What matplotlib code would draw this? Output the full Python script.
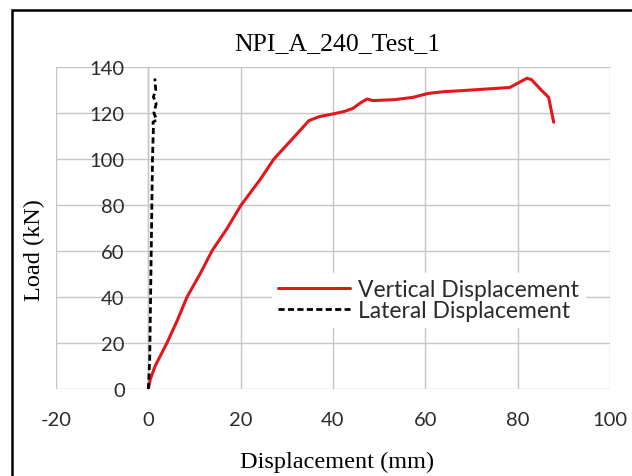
import matplotlib
matplotlib.use("Agg")
import matplotlib.pyplot as plt
from matplotlib.patches import Rectangle

plt.rcParams["axes.unicode_minus"] = False

# Data
vert_disp = [0, 0.43, 1.5, 4.1, 6.4, 8.4, 11.2, 13.8, 17.0, 20.0, 24.3, 27.2, 30.5, 33.8, 34.8,
             37.0, 40.0, 42.5, 44.3, 46.1, 47.4, 48.6, 53.3, 57.3, 60.6, 64.2, 67.8, 78.3,
             82.0, 83.0, 84.9, 86.7, 87.8]
vert_load = [0, 4.3, 10.1, 20.3, 30.4, 40.1, 50.0, 60.1, 69.6, 79.7, 91.3, 100, 107.2, 114.5, 116.7,
             118.4, 119.6, 120.7, 122.0, 124.6, 126.1, 125.4, 125.8, 126.8, 128.5, 129.3, 129.7, 131.1,
             135.1, 134.5, 130.4, 126.8, 116.0]
lat_disp = [0, 0.3, 0.6, 0.9, 1.1, 1.0, 1.8, 1.2, 1.7, 1.1, 1.6, 1.4]
lat_load = [0, 13, 56, 100, 114, 116, 117, 120, 124, 127, 130, 135]

x_ticks = [-20, 0, 20, 40, 60, 80, 100]
y_ticks = [0, 20, 40, 60, 80, 100, 120, 140]

title = "NPI_A_240_Test_1"
xlabel = "Displacement (mm)"
ylabel = "Load (kN)"

serif = ["Liberation Serif", "DejaVu Serif"]
sans = ["Lato", "DejaVu Sans"]

W, H = 632, 477
fig = plt.figure(figsize=(W / 100, H / 100), dpi=100)
fig.patch.set_facecolor("white")
# outer frame (cut off at right and bottom like the reference)
fig.patches.append(Rectangle((11.5 / W, -0.1), 1.2, 1 - 10.5 / H + 0.1,
                             transform=fig.transFigure, fill=False,
                             edgecolor="black", linewidth=1.8, zorder=10))

ax_l, ax_r, ax_t, ax_b = 56, 610, 68, 390
ax = fig.add_axes([ax_l / W, 1 - ax_b / H, (ax_r - ax_l) / W, (ax_b - ax_t) / H])
ax.set_xlim(-20, 100)
ax.set_ylim(0, 140)
ax.set_xticks(x_ticks)
ax.set_yticks(y_ticks)

grid_c = "#c6c6c6"
ax.grid(True, color=grid_c, linewidth=1.0, zorder=0)
ax.set_axisbelow(True)
for s in ["top", "right", "bottom"]:
    ax.spines[s].set_visible(False)
ax.spines["left"].set_position(("data", 0))
ax.spines["left"].set_color(grid_c)
ax.spines["left"].set_linewidth(1.0)
ax.spines["left"].set_zorder(0.5)
ax.tick_params(axis="both", length=0, labelsize=14.5, colors="#2b2b2b")
ax.tick_params(axis="y", pad=17)
ax.tick_params(axis="x", pad=16)
for lab in ax.get_xticklabels() + ax.get_yticklabels():
    lab.set_family(sans)

ax.plot(vert_disp, vert_load, color="#E3161C", linewidth=2.2, label="Vertical Displacement",
        zorder=3, solid_joinstyle="round", solid_capstyle="round")
ax.plot(lat_disp, lat_load, color="black", linewidth=2.0, linestyle=(0, (2.2, 1.2)),
        label="Lateral Displacement", zorder=3)

leg = ax.legend(loc="upper left",
                bbox_to_anchor=((272 - ax_l) / (ax_r - ax_l), (ax_b - 274) / (ax_b - ax_t)),
                frameon=True, fancybox=False, framealpha=1.0, edgecolor="white",
                facecolor="white", prop={"family": sans, "size": 16.5},
                handlelength=3.15, handletextpad=0.35, labelspacing=0.02,
                borderpad=0.25, borderaxespad=0)
for t in leg.get_texts():
    t.set_color("#2b2b2b")

fig.text(337 / W, 1 - 44 / H, title, ha="center", va="center",
         family=serif, fontsize=18.5)
fig.text(337 / W, 1 - 462 / H, xlabel, ha="center", va="center",
         family=serif, fontsize=17.5)
fig.text(34 / W, 1 - 250 / H, ylabel, ha="center", va="center", rotation=90,
         family=serif, fontsize=17.5)

fig.savefig("out.png", dpi=100)
